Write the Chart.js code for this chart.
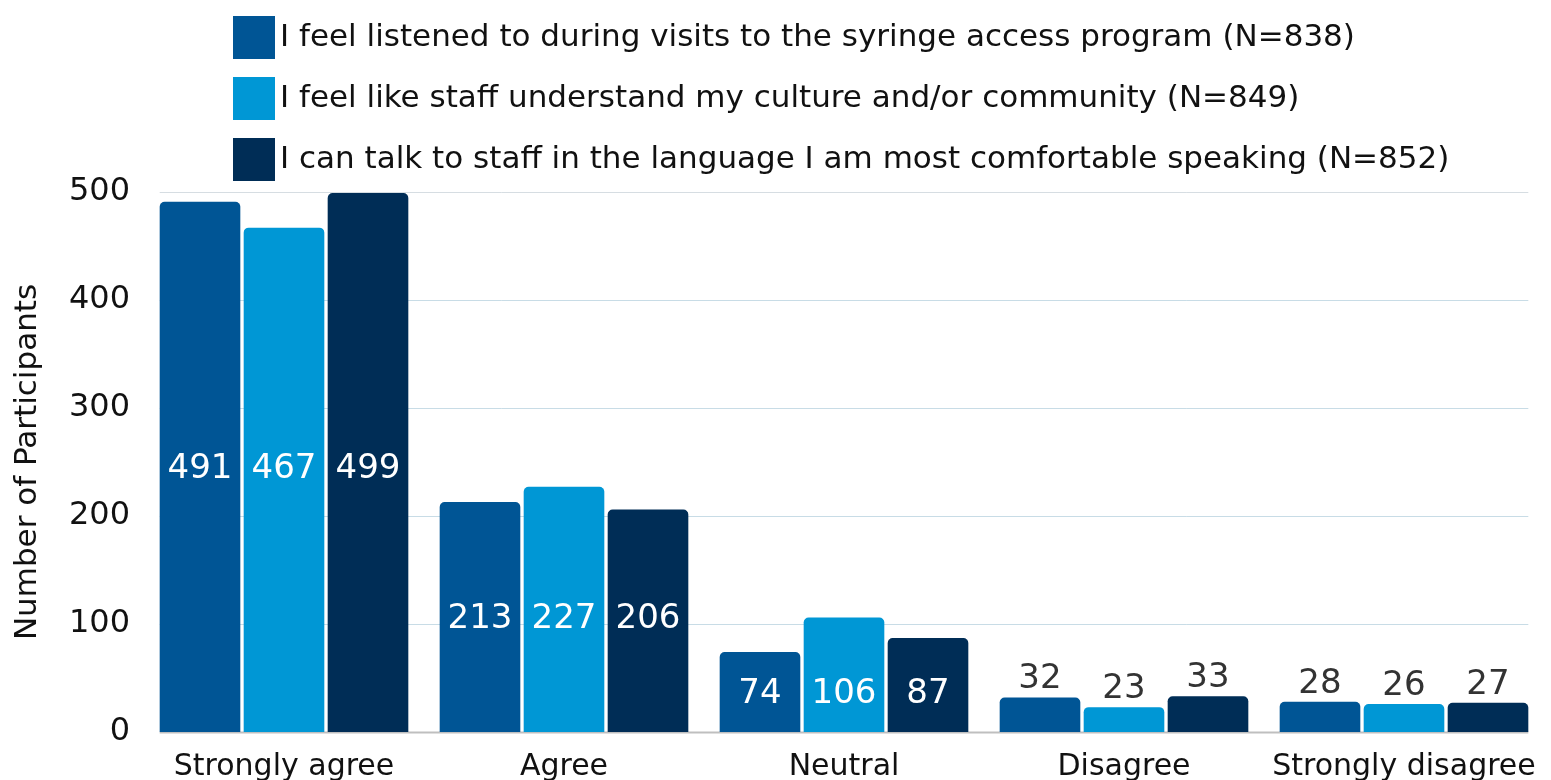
<!DOCTYPE html>
<html>
<head>
<meta charset="utf-8">
<script src="https://cdn.jsdelivr.net/npm/chart.js@4.4.1/dist/chart.umd.min.js"></script>
<style>
  html, body { margin: 0; padding: 0; background: #fff; overflow: hidden; }
  #wrap { position: absolute; left: 0; top: 0; width: 1551px; height: 800px; }
</style>
</head>
<body>
<div id="wrap"><canvas id="chart" width="1551" height="800"></canvas></div>
<script>
const categories = ['Strongly agree', 'Agree', 'Neutral', 'Disagree', 'Strongly disagree'];
const seriesNames = [
    'I feel listened to during visits to the syringe access program (N=838)',
    'I feel like staff understand my culture and/or community (N=849)',
    'I can talk to staff in the language I am most comfortable speaking (N=852)'
];
const listenedValues = [491, 213, 74, 32, 28];
const cultureValues = [467, 227, 106, 23, 26];
const languageValues = [499, 206, 87, 33, 27];
const yTicks = [0, 100, 200, 300, 400, 500];
const seriesColors = ['#005595', '#0097d5', '#002d56'];

const FONT = '"DejaVu Sans", "Liberation Sans", sans-serif';

// сетка только в пределах столбиков
const gridPlugin = {
    id: 'gridPlugin',
    beforeDatasetsDraw(chart) {
        const ctx = chart.ctx;
        const y = chart.scales.y;
        const first = chart.getDatasetMeta(0).data[0];
        const last = chart.getDatasetMeta(2).data[categories.length - 1];
        const x1 = first.x - first.width / 2;
        const x2 = last.x + last.width / 2;
        ctx.save();
        yTicks.forEach(v => {
            const py = Math.round(y.getPixelForValue(v)) + 0.5;
            ctx.strokeStyle = v === 0 ? '#bfbfbf' : (v === 500 ? '#d6dde2' : '#c8dce6');
            ctx.lineWidth = v === 0 ? 2 : 1;
            ctx.beginPath();
            ctx.moveTo(x1, py);
            ctx.lineTo(x2, py);
            ctx.stroke();
        });
        ctx.restore();
    }
};

// подписи значений
const labelPlugin = {
    id: 'labelPlugin',
    afterDatasetsDraw(chart) {
        const ctx = chart.ctx;
        const y = chart.scales.y;
        ctx.save();
        ctx.font = '34px ' + FONT;
        ctx.textAlign = 'center';
        ctx.textBaseline = 'middle';
        chart.data.datasets.forEach((ds, di) => {
            chart.getDatasetMeta(di).data.forEach((bar, i) => {
                const v = ds.data[i];
                const groupFirst = chart.data.datasets[0].data[i];
                if (groupFirst >= 60) {
                    ctx.fillStyle = '#ffffff';
                    ctx.fillText(String(v), bar.x, y.getPixelForValue(groupFirst / 2) + 2);
                } else {
                    ctx.fillStyle = '#333333';
                    ctx.fillText(String(v), bar.x, y.getPixelForValue(v) - 18);
                }
            });
        });
        ctx.restore();
    }
};

// легенда слева-сверху
const legendPlugin = {
    id: 'legendPlugin',
    afterDraw(chart) {
        const ctx = chart.ctx;
        ctx.save();
        ctx.font = '31px ' + FONT;
        ctx.textBaseline = 'middle';
        chart.data.datasets.forEach((ds, i) => {
            const top = 16 + i * 61;
            ctx.fillStyle = ds.backgroundColor;
            ctx.fillRect(233, top, 42, 43);
            ctx.fillStyle = '#111111';
            ctx.fillText(ds.label, 280, top + 22);
        });
        ctx.restore();
    }
};

const datasets = [listenedValues, cultureValues, languageValues].map((vals, i) => ({
    label: seriesNames[i],
    data: vals,
    backgroundColor: seriesColors[i],
    borderRadius: { topLeft: 5, topRight: 5 },
    borderSkipped: 'bottom',
    categoryPercentage: 0.9,
    barPercentage: 0.96
}));

new Chart(document.getElementById('chart'), {
    type: 'bar',
    data: { labels: categories, datasets: datasets },
    options: {
        responsive: false,
        animation: false,
        devicePixelRatio: 1,
        layout: { padding: { top: 192, right: 7, left: 0, bottom: 0 } },
        plugins: {
            legend: { display: false },
            tooltip: { enabled: false }
        },
        scales: {
            x: {
                afterFit(scale) {
                    scale.height = 68;
                    scale.paddingLeft = 0;
                    scale.paddingRight = 0;
                },
                grid: { display: false, drawTicks: false },
                border: { display: false },
                ticks: { color: '#111111', font: { family: FONT, size: 30 }, padding: 17, maxRotation: 0, autoSkip: false }
            },
            y: {
                min: 0,
                max: 500,
                afterFit(scale) { scale.width = 144; },
                afterBuildTicks(scale) { scale.ticks = yTicks.map(v => ({ value: v })); },
                grid: { display: false, drawTicks: false },
                border: { display: false },
                ticks: { color: '#111111', font: { family: FONT, size: 32 }, padding: 14 },
                title: {
                    display: true,
                    text: 'Number of Participants',
                    color: '#111111',
                    font: { family: FONT, size: 31 },
                    padding: { top: 9, bottom: 0 }
                }
            }
        }
    },
    plugins: [gridPlugin, labelPlugin, legendPlugin]
});
</script>
</body>
</html>
